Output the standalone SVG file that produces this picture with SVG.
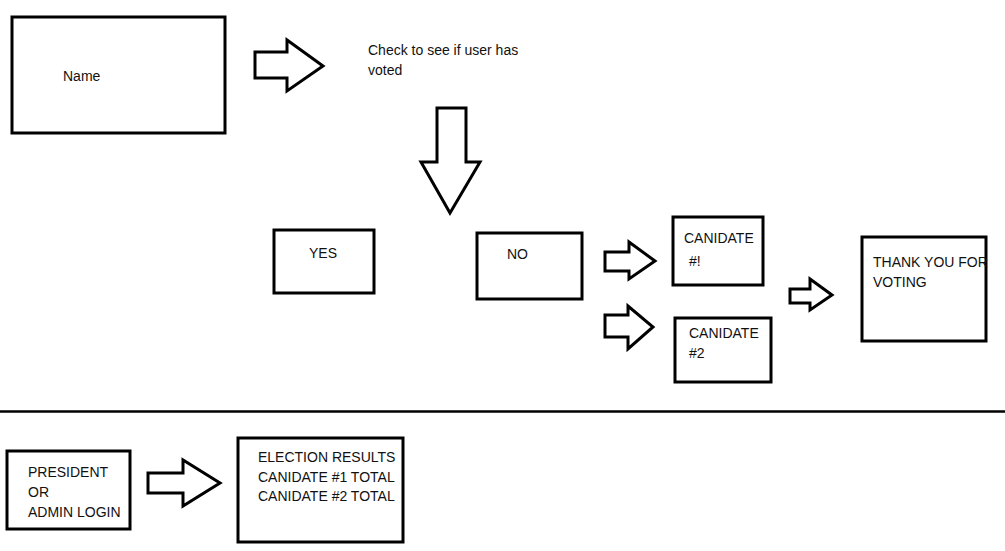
<svg xmlns="http://www.w3.org/2000/svg" width="1005" height="551" viewBox="0 0 1005 551">
<style>
.box{fill:#fff;stroke:#000;stroke-width:3}
.arr{fill:#fff;stroke:#000;stroke-width:3;stroke-linejoin:miter}
text{font-family:"Liberation Sans",Arial,sans-serif;font-size:14px;fill:#111}
</style>
<rect width="1005" height="551" fill="#fff"/>
<g id="connectors">
<path class="arr" d="M255,52 H287 V40 L323,66 L287,91 V78 H255 Z"/>
<path class="arr" d="M437,108 H466 V162 H480 L450,213 L421,162 H437 Z"/>
<path class="arr" d="M605,252 H629 V242 L655,261 L629,279 V271 H605 Z"/>
<path class="arr" d="M605,315 H628 V306 L653,327 L628,349 V337 H605 Z"/>
<path class="arr" d="M790,289 H810 V279 L832,295 L810,310 V303 H790 Z"/>
<path class="arr" d="M148,473 H183 V460 L220,483 L183,506 V493 H148 Z"/>
<path d="M0,411.5 H1005" stroke="#000" stroke-width="2.5"/>
</g>
<g id="name"><rect class="box" x="12" y="17" width="213" height="116"/><text x="63" y="81">Name</text></g>
<g id="check"><text x="368" y="55">Check to see if user has</text><text x="368" y="75">voted</text></g>
<g id="yes"><rect class="box" x="274" y="230" width="100" height="63"/><text x="309" y="258">YES</text></g>
<g id="no"><rect class="box" x="477" y="233" width="105" height="66"/><text x="507" y="259">NO</text></g>
<g id="cand1"><rect class="box" x="673" y="217" width="90" height="68"/><text x="684" y="243">CANIDATE</text><text x="689" y="266">#!</text></g>
<g id="cand2"><rect class="box" x="675" y="318" width="96" height="64"/><text x="689" y="338">CANIDATE</text><text x="689" y="358">#2</text></g>
<g id="thanks"><rect class="box" x="862" y="237" width="124" height="104"/><text x="873" y="267">THANK YOU FOR</text><text x="873" y="287">VOTING</text></g>
<g id="admin"><rect class="box" x="7" y="451" width="123" height="78"/><text x="28" y="477">PRESIDENT</text><text x="28" y="497">OR</text><text x="28" y="517">ADMIN LOGIN</text></g>
<g id="results"><rect class="box" x="238" y="438" width="165" height="104"/><text x="258" y="462">ELECTION RESULTS</text><text x="258" y="482">CANIDATE #1 TOTAL</text><text x="258" y="501">CANIDATE #2 TOTAL</text></g>
</svg>
